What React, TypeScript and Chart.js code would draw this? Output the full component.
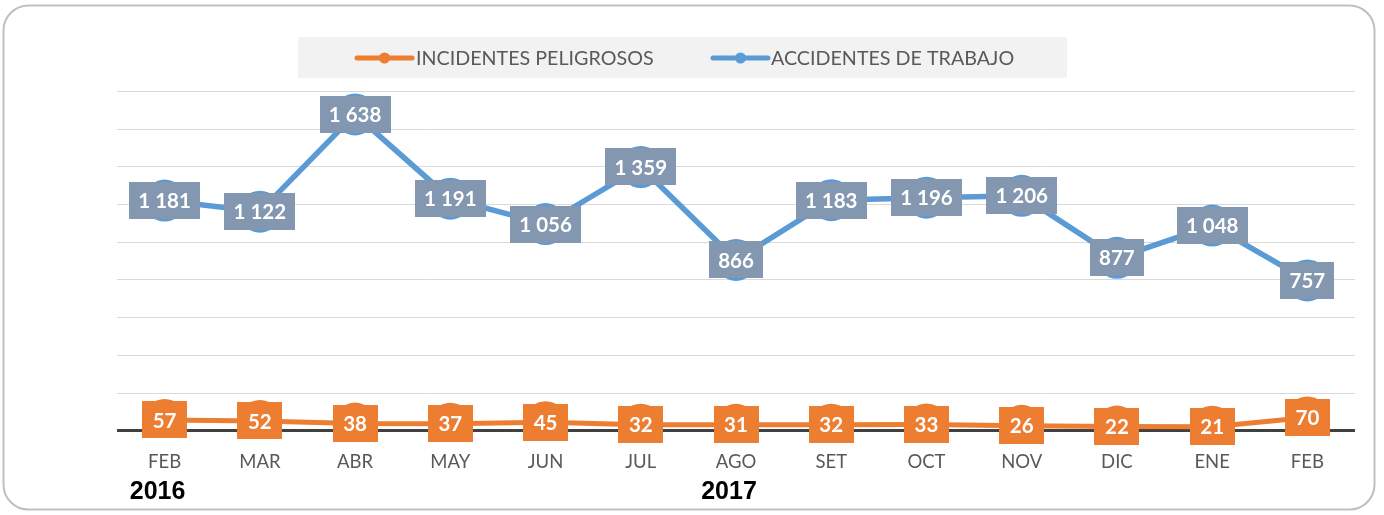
import { useEffect, useRef } from 'react';
import { Chart, registerables } from 'chart.js';

Chart.register(...registerables);

const months = ['FEB', 'MAR', 'ABR', 'MAY', 'JUN', 'JUL', 'AGO', 'SET', 'OCT', 'NOV', 'DIC', 'ENE', 'FEB'];
const years = ['2016', '', '', '', '', '', '2017', '', '', '', '', '', ''];
const incidentesPeligrosos = [57, 52, 38, 37, 45, 32, 31, 32, 33, 26, 22, 21, 70];
const accidentesTrabajo = [1181, 1122, 1638, 1191, 1056, 1359, 866, 1183, 1196, 1206, 877, 1048, 757];
const seriesNames = ['INCIDENTES PELIGROSOS', 'ACCIDENTES DE TRABAJO'];

const ORANGE = '#ED7D31';
const BLUE = '#5B9BD5';
const BLUE_LABEL = '#8497B0';
const TEXT = '#595959';

const fmt = (v: number) => String(v).replace(/\B(?=(\d{3})+(?!\d))/g, ' ');

const framePlugin = {
  id: 'frame',
  beforeDraw(chart: any) {
    const { ctx } = chart;
    ctx.save();
    ctx.fillStyle = '#ffffff';
    ctx.fillRect(0, 0, chart.width, chart.height);
    const x = 3.5, y = 5.5, w = 1371, h = 504, r = 25;
    ctx.beginPath();
    ctx.moveTo(x + r, y);
    ctx.lineTo(x + w - r, y);
    ctx.arcTo(x + w, y, x + w, y + r, r);
    ctx.lineTo(x + w, y + h - r);
    ctx.arcTo(x + w, y + h, x + w - r, y + h, r);
    ctx.lineTo(x + r, y + h);
    ctx.arcTo(x, y + h, x, y + h - r, r);
    ctx.lineTo(x, y + r);
    ctx.arcTo(x, y, x + r, y, r);
    ctx.closePath();
    ctx.strokeStyle = '#bfbfbf';
    ctx.lineWidth = 2;
    ctx.stroke();

    // legend
    ctx.fillStyle = '#f2f2f2';
    ctx.fillRect(298, 37, 769, 41);
    const items = [
      { x0: 357, x1: 412, tx: 416, ds: chart.data.datasets[0] },
      { x0: 713, x1: 768, tx: 771, ds: chart.data.datasets[1] },
    ];
    const ly = 58;
    items.forEach((it) => {
      ctx.strokeStyle = it.ds.borderColor;
      ctx.lineWidth = 5;
      ctx.lineCap = 'round';
      ctx.beginPath();
      ctx.moveTo(it.x0, ly);
      ctx.lineTo(it.x1, ly);
      ctx.stroke();
      ctx.fillStyle = it.ds.borderColor;
      ctx.beginPath();
      ctx.arc((it.x0 + it.x1) / 2, ly, 5.5, 0, Math.PI * 2);
      ctx.fill();
      ctx.fillStyle = TEXT;
      ctx.font = '19.7px Lato';
      ctx.textAlign = 'left';
      ctx.textBaseline = 'middle';
      ctx.fillText(it.ds.label, it.tx, ly + 1);
    });
    ctx.restore();
  },
};

const labelPlugin = {
  id: 'boxLabels',
  afterDatasetsDraw(chart: any) {
    const { ctx } = chart;
    ctx.save();
    ctx.font = 'bold 20.5px Lato';
    ctx.textAlign = 'center';
    ctx.textBaseline = 'middle';
    chart.data.datasets.forEach((ds: any, di: number) => {
      const meta = chart.getDatasetMeta(di);
      const fill = di === 1 ? BLUE_LABEL : ORANGE;
      const pad = di === 1 ? 18 : 21;
      meta.data.forEach((pt: any, i: number) => {
        const text = fmt(ds.data[i]);
        const tw = ctx.measureText(text).width;
        const w = Math.round(tw + pad);
        const h = 37;
        ctx.fillStyle = fill;
        ctx.fillRect(Math.round(pt.x - w / 2), Math.round(pt.y - h / 2), w, h);
        ctx.fillStyle = '#ffffff';
        ctx.fillText(text, pt.x, pt.y + 1);
      });
    });
    ctx.restore();
  },
  afterDraw(chart: any) {
    const { ctx } = chart;
    const xs = chart.scales.x;
    ctx.save();
    ctx.font = 'bold 25px "Liberation Sans"';
    ctx.fillStyle = '#000000';
    ctx.textAlign = 'center';
    ctx.textBaseline = 'middle';
    years.forEach((yl, i) => {
      if (!yl) return;
      ctx.fillText(yl, xs.getPixelForValue(i) - 7, 492);
    });
    ctx.restore();
  },
};

export default function App() {
  const ref = useRef<HTMLCanvasElement>(null);
  useEffect(() => {
    document.body.style.margin = '0';
    const chart = new Chart(ref.current as HTMLCanvasElement, {
      type: 'line',
      data: {
        labels: months,
        datasets: [
          {
            label: seriesNames[0],
            data: incidentesPeligrosos,
            borderColor: ORANGE,
            backgroundColor: ORANGE,
            borderWidth: 5,
            pointRadius: 21,
            pointBorderWidth: 0,
            pointBackgroundColor: ORANGE,
            yAxisID: 'y',
            tension: 0,
          },
          {
            label: seriesNames[1],
            data: accidentesTrabajo,
            borderColor: BLUE,
            backgroundColor: BLUE,
            borderWidth: 5.5,
            pointRadius: 21,
            pointBorderWidth: 0,
            pointBackgroundColor: BLUE,
            yAxisID: 'y1',
            tension: 0,
          },
        ],
      },
      options: {
        animation: false,
        responsive: false,
        layout: { padding: { top: 91.4, left: 117, right: 29, bottom: 0 } },
        plugins: { legend: { display: false }, tooltip: { enabled: false } },
        scales: {
          x: {
            offset: true,
            grid: { display: false, drawTicks: false },
            border: { display: false },
            ticks: { color: TEXT, font: { family: 'Lato', size: 18.5 }, padding: 20 },
            afterFit: (s: any) => { s.height = 84.3; },
          },
          y: {
            min: 0,
            max: 1800,
            ticks: { display: false, stepSize: 200 },
            border: { display: false },
            grid: {
              drawTicks: false,
              color: (c: any) => (c.tick && c.tick.value === 0 ? '#404040' : '#d9d9d9'),
              lineWidth: (c: any) => (c.tick && c.tick.value === 0 ? 3 : 1),
            },
            afterFit: (s: any) => { s.width = 0; },
          },
          y1: {
            display: false,
            min: -40,
            max: 1760,
          },
        },
      },
      plugins: [framePlugin, labelPlugin],
    } as any);
    return () => chart.destroy();
  }, []);
  return (
    <div style={{ width: 1384, height: 515 }}>
      <canvas ref={ref} width={1384} height={515} style={{ display: 'block' }} />
    </div>
  );
}
